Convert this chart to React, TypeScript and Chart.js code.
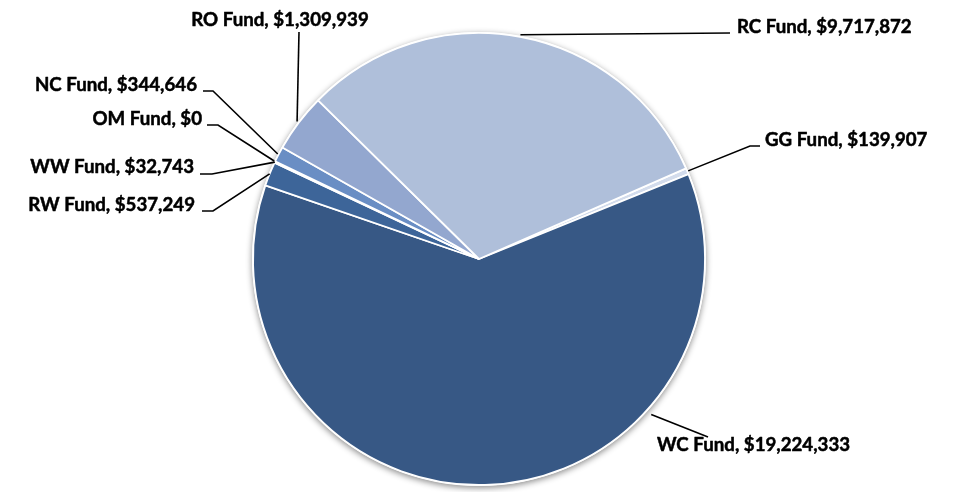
import React, { useEffect, useRef } from "react";
import { Chart, registerables } from "chart.js";

Chart.register(...registerables);

// ---- data ----
const categories = ["GG Fund", "WC Fund", "RW Fund", "WW Fund", "OM Fund", "NC Fund", "RO Fund", "RC Fund"];
const fundValues = [139907, 19224333, 537249, 32743, 0, 344646, 1309939, 9717872];

// ---- styles / layout ----
const sliceColors = ["#D3DCEC", "#375885", "#3D6599", "#4E78B1", "#5A83BC", "#6A8EC4", "#93A7CF", "#AFBFDA"];
const startRotation = 66.35;
const pieRadius = 226;
const labelFont = "bold 18.7px Lato, 'Open Sans', sans-serif";

type LabelSpec = { tx: number; ty: number; align: CanvasTextAlign; frac: number; gap: number; path: number[][] };
const labelLayout: LabelSpec[] = [
  { tx: 765, ty: 140, align: "left", frac: 0.5, gap: 1, path: [[750, 146], [760, 146]] },
  { tx: 657, ty: 445, align: "left", frac: 0.29, gap: 6, path: [[708, 437]] },
  { tx: 195, ty: 205, align: "right", frac: 0.5, gap: 0, path: [[213, 211], [202, 211]] },
  { tx: 194, ty: 167, align: "right", frac: 0.5, gap: 0, path: [[212, 174], [200, 174]] },
  { tx: 202, ty: 119, align: "right", frac: 0.5, gap: 1, path: [[218, 125], [207, 125]] },
  { tx: 197, ty: 85, align: "right", frac: 0.5, gap: 1, path: [[213, 91], [203, 91]] },
  { tx: 280, ty: 20, align: "center", frac: 0.5, gap: 2, path: [[299, 32]] },
  { tx: 737, ty: 27, align: "left", frac: 0.5, gap: 2, path: [[730, 33]] },
];

const formatLabel = (name: string, v: number) => `${name}, $${v.toLocaleString("en-US")}`;

const shadowPlugin = {
  id: "pieShadow",
  beforeDatasetsDraw(chart: any) {
    const meta = chart.getDatasetMeta(0);
    const arc = meta.data[0];
    if (!arc) return;
    const { x, y, outerRadius } = arc.getProps(["x", "y", "outerRadius"], true);
    const ctx = chart.ctx;
    ctx.save();
    ctx.shadowColor = "rgba(0,0,0,0.45)";
    ctx.shadowBlur = 6;
    ctx.shadowOffsetX = 0;
    ctx.shadowOffsetY = 2;
    ctx.fillStyle = "#ffffff";
    ctx.beginPath();
    ctx.arc(x, y, outerRadius + 1, 0, Math.PI * 2);
    ctx.fill();
    ctx.restore();
  },
};

const labelPlugin = {
  id: "leaderLabels",
  afterDatasetsDraw(chart: any) {
    const ctx = chart.ctx;
    const meta = chart.getDatasetMeta(0);
    const values = chart.data.datasets[0].data as number[];
    const names = chart.data.labels as string[];
    meta.data.forEach((arc: any, i: number) => {
      const spec = labelLayout[i];
      if (!spec) return;
      const { x, y, startAngle, endAngle, outerRadius } = arc.getProps(
        ["x", "y", "startAngle", "endAngle", "outerRadius"],
        true
      );
      const a = startAngle + (endAngle - startAngle) * spec.frac;
      const r = outerRadius + spec.gap;
      const ax = x + r * Math.cos(a);
      const ay = y + r * Math.sin(a);
      ctx.save();
      ctx.strokeStyle = "#000";
      ctx.lineWidth = 1.6;
      ctx.beginPath();
      ctx.moveTo(ax, ay);
      spec.path.forEach((p) => ctx.lineTo(p[0], p[1]));
      ctx.stroke();
      const text = formatLabel(names[i], values[i]);
      ctx.fillStyle = "#000";
      ctx.font = labelFont;
      ctx.textAlign = spec.align;
      ctx.textBaseline = "middle";
      ctx.lineWidth = 0.5;
      ctx.lineJoin = "round";
      ctx.strokeText(text, spec.tx, spec.ty);
      ctx.fillText(text, spec.tx, spec.ty);
      ctx.restore();
    });
  },
};

export default function App() {
  const canvasRef = useRef<HTMLCanvasElement | null>(null);

  useEffect(() => {
    if (!canvasRef.current) return;
    const chart = new Chart(canvasRef.current, {
      type: "pie",
      data: {
        labels: categories,
        datasets: [
          {
            data: fundValues,
            backgroundColor: sliceColors,
            borderColor: "#ffffff",
            borderWidth: 1.8,
          },
        ],
      },
      options: {
        animation: false,
        responsive: true,
        maintainAspectRatio: false,
        rotation: startRotation,
        radius: pieRadius,
        layout: { padding: { left: 0, right: 6, top: 26, bottom: 0 } },
        plugins: {
          legend: { display: false },
          tooltip: { enabled: false },
        },
      } as any,
      plugins: [shadowPlugin, labelPlugin],
    });
    return () => chart.destroy();
  }, []);

  return (
    <div style={{ position: "fixed", left: 0, top: 0, width: 964, height: 492, background: "#fff" }}>
      <canvas ref={canvasRef} />
    </div>
  );
}
